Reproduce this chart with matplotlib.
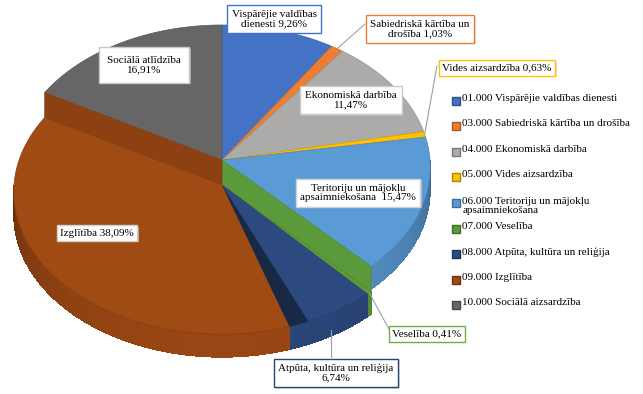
import numpy as np
import matplotlib
matplotlib.use("Agg")
import matplotlib.pyplot as plt
from matplotlib.patches import Polygon, Rectangle
import matplotlib.colors as mcolors

plt.rcParams['font.family'] = ['Liberation Serif', 'DejaVu Serif']

# ---------------- data ----------------
categories = ["01.000 Vispārējie valdības dienesti",
              "03.000 Sabiedriskā kārtība un drošība",
              "04.000 Ekonomiskā darbība",
              "05.000 Vides aizsardzība",
              "06.000 Teritoriju un mājokļu\napsaimniekošana",
              "07.000 Veselība",
              "08.000 Atpūta, kultūra un reliģija",
              "09.000 Izglītība",
              "10.000 Sociālā aizsardzība"]
values = [9.26, 1.03, 11.47, 0.63, 15.47, 0.41, 6.74, 38.09, 16.91]
data_labels = ["Vispārējie valdības\ndienesti 9,26%",
               "Sabiedriskā kārtība un\ndrošība 1,03%",
               "Ekonomiskā darbība\n11,47%",
               "Vides aizsardzība 0,63%",
               "Teritoriju un mājokļu\napsaimniekošana  15,47%",
               "Veselība 0,41%",
               "Atpūta, kultūra un reliģija\n6,74%",
               "Izglītība 38,09%",
               "Sociālā atlīdzība\n16,91%"]

# ---------------- style ----------------
colors = ["#4472C4", "#ED7D31", "#ADABAA", "#FFC000", "#5B9BD5",
          "#5A9A3A", "#2C4A80", "#A04A14", "#666666"]
label_edge = ["#4472C4", "#ED7D31", "#C8C8C8", "#FFC000", "#D0D0D0",
              "#70AD47", "#264478", "#D0D0D0", "#C8C8C8"]
lowered = [False, False, False, False, False, True, True, True, False]
label_pos = [(274, 19), (420, 29), (351, 100), (497, 68), (358, 193),
             (427, 334), (336, 373), (97, 233), (144, 65)]
label_pad = [0.4, 0.4, 0.45, 0.3, 0.4, 0.3, 0.4, 0.3, 0.75]
leader_box = [None, (365, 24), None, (437, 66), None,
              (390, 331), (331, 357), None, None]

W, H = 643, 394
cx, cy = 222, 160
rx, ry = 208, 141.75
k = 0.05
shift = 25
depth = 23


def proj(theta_deg, r=1.0):
    th = np.radians(theta_deg)
    s = 1.0 / (1.0 + k * np.cos(th))
    return cx + r * rx * np.sin(th) * s, cy - r * ry * np.cos(th) * s


def shade(c, f):
    r, g, b = mcolors.to_rgb(c)
    return (min(1, r * f), min(1, g * f), min(1, b * f))


fig = plt.figure(figsize=(W / 100, H / 100), dpi=100)
ax = fig.add_axes([0, 0, 1, 1])
ax.set_xlim(0, W)
ax.set_ylim(H, 0)
ax.axis('off')

vals = np.array(values)
ends = np.cumsum(vals) / vals.sum() * 360.0
starts = np.concatenate([[0.0], ends[:-1]])

# ---- side walls ----
for i in range(len(vals)):
    a0, a1 = max(starts[i], 90), min(ends[i], 270)
    if a1 <= a0:
        continue
    off = shift if lowered[i] else 0
    ts = np.linspace(a0, a1, max(3, int((a1 - a0) * 2)))
    for t0, t1 in zip(ts[:-1], ts[1:]):
        t1e = min(t1 + 0.4, a1)
        x0, y0 = proj(t0)
        x1, y1 = proj(t1e)
        tm = np.radians((t0 + t1) / 2)
        f = 0.55 + 0.4 * np.sqrt(max(0.0, -np.cos(tm)))
        poly = [(x0, y0 + off), (x1, y1 + off), (x1, y1 + off + depth), (x0, y0 + off + depth)]
        ax.add_patch(Polygon(poly, closed=True, facecolor=shade(colors[i], f),
                             lw=0, antialiased=False))

# ---- top faces ----
def face(i, off):
    ts = np.linspace(starts[i], ends[i], max(3, int((ends[i] - starts[i]) * 2)))
    pts = [(cx, cy + off)] + [(proj(t)[0], proj(t)[1] + off) for t in ts]
    ax.add_patch(Polygon(pts, closed=True, facecolor=colors[i],
                         edgecolor=shade(colors[i], 0.85), lw=0.5))

for i in range(len(vals)):
    if not lowered[i]:
        face(i, 0)

# bands between the raised and lowered parts
low_idx = [i for i in range(len(vals)) if lowered[i]]
first, last = low_idx[0], low_idx[-1]
for ang, col in [(starts[first], shade(colors[first], 1.0)),
                 (ends[last], shade(colors[last], 0.88))]:
    px, py = proj(ang)
    ax.add_patch(Polygon([(cx, cy), (px, py), (px, py + shift), (cx, cy + shift)],
                         closed=True, facecolor=col, edgecolor=shade(col, 0.9), lw=0.4))

for i in low_idx:
    face(i, shift)

# darker bevel on the Atpūta face near the Izglītība edge
i = 6
span = ends[i] - starts[i]
ts = np.linspace(ends[i] - 0.22 * span, ends[i], 10)
pts = [(cx, cy + shift)] + [(proj(t)[0], proj(t)[1] + shift) for t in ts]
ax.add_patch(Polygon(pts, closed=True, facecolor=shade(colors[i], 0.55), lw=0))

# ---- data labels ----
for i in range(len(vals)):
    if leader_box[i] is not None:
        mid = (starts[i] + ends[i]) / 2
        off = shift if lowered[i] else 0
        if i == 6:
            px, py = proj(mid)
            px = leader_box[i][0]
            py += off + depth * 0.75
        else:
            px, py = proj(mid)
            py += off
        ax.plot([px, leader_box[i][0]], [py, leader_box[i][1]],
                color="#A0A0A0", lw=0.8, zorder=4)
    x, y = label_pos[i]
    # soft shadow
    ax.text(x + 1.5, y + 1.5, data_labels[i], ha='center', va='center', fontsize=8,
            linespacing=1.05, color=(0, 0, 0, 0), zorder=5,
            bbox=dict(boxstyle='square,pad=%.2f' % label_pad[i], facecolor='#CFCFCF',
                      edgecolor='none', alpha=0.6))
    ax.text(x, y, data_labels[i], ha='center', va='center', fontsize=8,
            linespacing=1.05, color="#000000", zorder=6,
            bbox=dict(boxstyle='square,pad=%.2f' % label_pad[i], facecolor='white',
                      edgecolor=label_edge[i], lw=1.0))

# ---- legend ----
leg_y = [101, 126, 152, 177, 203, 229, 254, 280, 305]
for i, name in enumerate(categories):
    y = leg_y[i]
    ax.add_patch(Rectangle((452, y - 4.5), 8, 8, facecolor=colors[i],
                           edgecolor=shade(colors[i], 0.7), lw=1.0))
    ax.text(462.5, y - 6.8, name, ha='left', va='top', fontsize=8,
            linespacing=1.12, color="#000000")

fig.savefig("out.png", dpi=100, facecolor="white")
